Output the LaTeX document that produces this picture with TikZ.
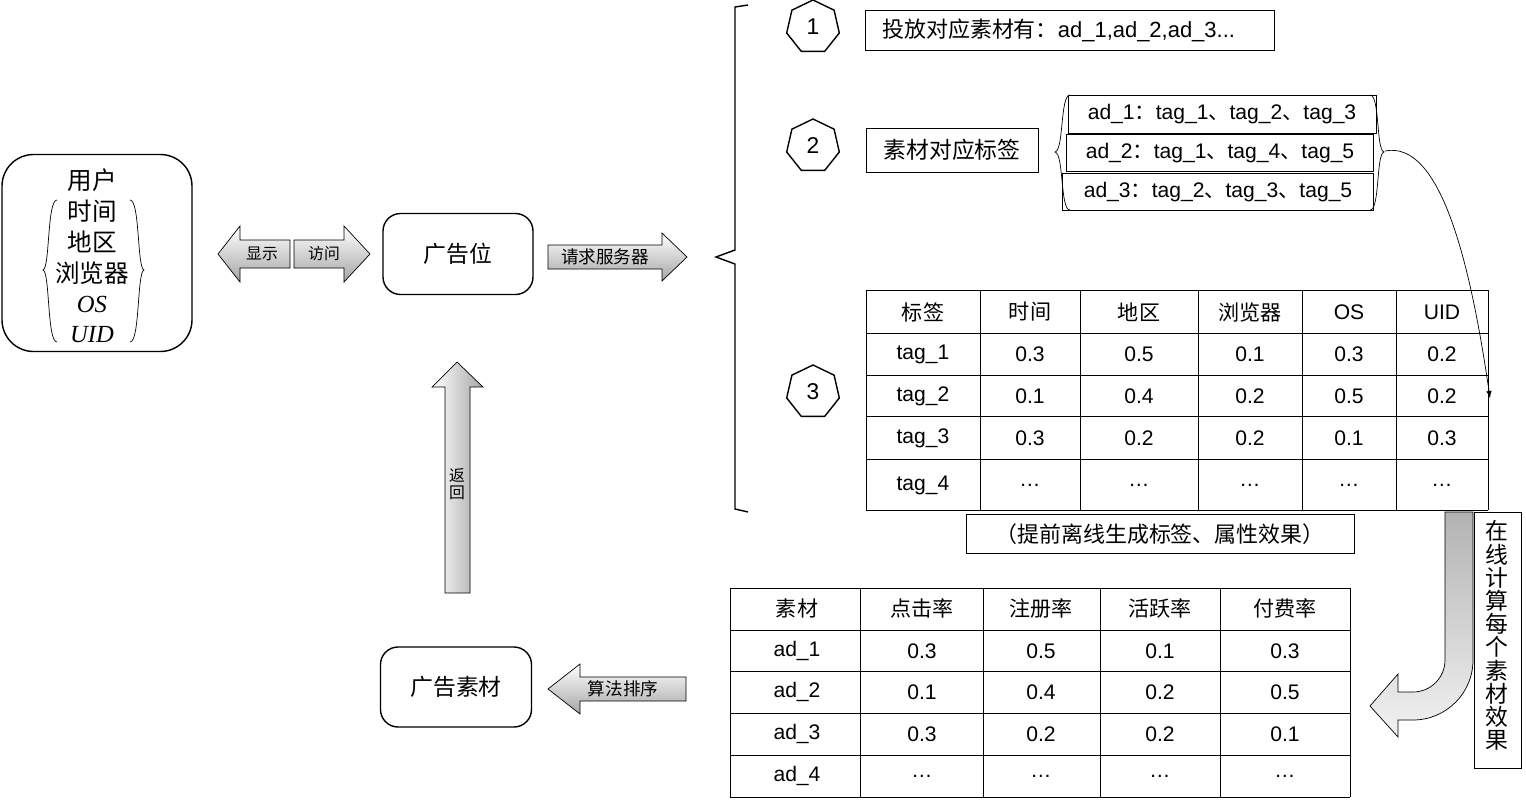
\documentclass[tikz,border=0pt]{standalone}
\usepackage{fontspec}
\setmainfont{Liberation Sans}
\newfontfamily\cjk{Noto Sans CJK SC}
\newfontfamily\serifit{Liberation Serif}
\usetikzlibrary{shapes.geometric}

\tikzset{
  rbox/.style={draw, thick, rounded corners=10pt, font=\cjk\fontsize{13}{15}\selectfont},
  tbox/.style={draw, inner sep=0pt, font=\fontsize{12}{14}\selectfont},
  hepta/.style={draw, thick, regular polygon, regular polygon sides=7, minimum size=54*0.02cm, inner sep=0pt, font=\fontsize{13}{15}\selectfont},
  garrow/.style={draw, top color=white, bottom color=black!35},
  cell/.style={font=\fontsize{12}{14}\selectfont},
  small/.style={font=\cjk\fontsize{9}{10}\selectfont},
  uitem/.style={font=\cjk\fontsize{14}{16}\selectfont}
}

\begin{document}
\begin{tikzpicture}[x=0.02cm, y=-0.02cm]
\useasboundingbox (0,0) rectangle (1526,805);

% user box
\node[rbox, minimum width=190*0.02cm, minimum height=197*0.02cm, rounded corners=18pt] (user) at (97,253) {};
\foreach [count=\i] \yy/\txt in {180/用户,211/时间,242/地区,273/浏览器,304/{\serifit\itshape OS},335/{\serifit\itshape UID}}
  \node[uitem] (u\i) at (92,\yy) {\txt};
\draw (57,200) .. controls (47,200) and (50,268) .. (43,270) .. controls (50,272) and (47,342) .. (57,342);
\draw (130,200) .. controls (140,200) and (137,268) .. (144,270) .. controls (137,272) and (140,342) .. (130,342);

% show / visit arrows
\draw[garrow] (290,240) -- (240,240) -- (240,226) -- (218,254) -- (240,282) -- (240,268) -- (290,268) -- cycle;
\node[small] (show) at (262,254) {显示};
\draw[garrow] (294,240) -- (344,240) -- (344,226) -- (370,254) -- (344,282) -- (344,268) -- (294,268) -- cycle;
\node[small] (visit) at (324,254) {访问};

% ad slot
\node[rbox, minimum width=150*0.02cm, minimum height=81*0.02cm] (slot) at (458,254) {广告位};

% request arrow
\draw[garrow] (548,245) -- (662,245) -- (662,233) -- (687,257) -- (662,281) -- (662,269) -- (548,269) -- cycle;
\node[small, font=\cjk\fontsize{10}{12}\selectfont] (request) at (605,257) {请求服务器};

% big bracket
\draw[thick] (748,5) -- (735,7) -- (735,250) -- (716,257) -- (735,264) -- (735,509) -- (748,512);

% step markers
\node[hepta] (s1) at (813,27) {1};
\node[hepta] (s2) at (813,146) {2};
\node[hepta] (s3) at (813,392) {3};

% step 1
\node[tbox, minimum width=409*0.02cm, minimum height=40*0.02cm] (ads) at (1070,30) {};
\node[anchor=west, font=\fontsize{12.5}{14}\selectfont] (adstext) at (876,30) {{\cjk 投放对应素材有：}ad\_1,ad\_2,ad\_3...};

% step 2
\node[tbox, minimum width=172*0.02cm, minimum height=44*0.02cm, font=\cjk\fontsize{13}{15}\selectfont] (adtag) at (952,150) {素材对应标签};
\node[tbox, minimum width=308*0.02cm, minimum height=38*0.02cm] (ad1) at (1222,114) {ad\_1{\cjk ：}tag\_1{\cjk 、}tag\_2{\cjk 、}tag\_3};
\node[tbox, minimum width=307*0.02cm, minimum height=37*0.02cm] (ad2) at (1220,153) {ad\_2{\cjk ：}tag\_1{\cjk 、}tag\_4{\cjk 、}tag\_5};
\node[tbox, minimum width=311*0.02cm, minimum height=37*0.02cm] (ad3) at (1218,192) {ad\_3{\cjk ：}tag\_2{\cjk 、}tag\_3{\cjk 、}tag\_5};
\draw (1070,95) .. controls (1060,95) and (1064,150) .. (1055,152) .. controls (1064,154) and (1060,210) .. (1070,210);
\draw (1370,95) .. controls (1380,95) and (1376,150) .. (1384,152) .. controls (1376,154) and (1380,210) .. (1370,210);
\coordinate (bracetip) at (1385,151);
\coordinate (curveend) at (1490,398);
\draw[-latex] (bracetip) .. controls (1440,140) and (1470,260) .. (curveend);

% tag table
\foreach \yy in {290,333,375,416,459,510} \draw (866,\yy) -- (1488,\yy);
\foreach \xx in {866,980,1080,1198,1302,1396,1488} \draw (\xx,290) -- (\xx,510);
\foreach [count=\c] \xm/\txt in {923/{\cjk 标签},1030/{\cjk 时间},1139/{\cjk 地区},1250/{\cjk 浏览器},1349/OS,1442/UID}
  \node[cell] (th\c) at (\xm,312) {\txt};
\foreach [count=\r] \ym/\a/\b/\cc/\d/\e/\f in {
  354/tag\_1/0.3/0.5/0.1/0.3/0.2,
  396/tag\_2/0.1/0.4/0.2/0.5/0.2,
  438/tag\_3/0.3/0.2/0.2/0.1/0.3,
  485/tag\_4/\dots/\dots/\dots/\dots/\dots}
{
  \node[cell] (ta\r) at (923,\ym) {\a};
  \node[cell] (tb\r) at (1030,\ym) {\b};
  \node[cell] (tc\r) at (1139,\ym) {\cc};
  \node[cell] (td\r) at (1250,\ym) {\d};
  \node[cell] (te\r) at (1349,\ym) {\e};
  \node[cell] (tf\r) at (1442,\ym) {\f};
}

% offline note
\node[tbox, minimum width=388*0.02cm, minimum height=39*0.02cm, font=\cjk\fontsize{12.5}{14}\selectfont] (offline) at (1160,534) {（提前离线生成标签、属性效果）};

% bent arrow
\shade[top color=black!30, bottom color=black!5, draw] (1473,512) -- (1473,660) arc[start angle=0, end angle=90, radius=60] -- (1398,720) -- (1398,737) -- (1370,706) -- (1398,674) -- (1398,692) -- (1413,692) arc[start angle=90, end angle=0, radius=32] -- (1445,512) -- cycle;
\node[tbox, minimum width=47*0.02cm, minimum height=256*0.02cm] (online) at (1498,640) {};
\foreach [count=\i] \ch in {在,线,计,算,每,个,素,材,效,果}
  \node[font=\cjk\fontsize{13}{15}\selectfont] (oc\i) at (1497,508+23.2*\i) {\ch};

% result table
\foreach \yy in {588,630,671,713,755,797} \draw (730,\yy) -- (1350,\yy);
\foreach \xx in {730,860,983,1100,1220,1350} \draw (\xx,588) -- (\xx,797);
\foreach [count=\c] \xm/\txt in {797/素材,922/点击率,1041/注册率,1160/活跃率,1285/付费率}
  \node[cell, font=\cjk\fontsize{12}{14}\selectfont] (rh\c) at (\xm,608) {\txt};
\foreach [count=\r] \ym/\a/\b/\cc/\d/\e in {
  651/ad\_1/0.3/0.5/0.1/0.3,
  692/ad\_2/0.1/0.4/0.2/0.5,
  734/ad\_3/0.3/0.2/0.2/0.1,
  776/ad\_4/\dots/\dots/\dots/\dots}
{
  \node[cell] (ra\r) at (797,\ym) {\a};
  \node[cell] (rb\r) at (922,\ym) {\b};
  \node[cell] (rc\r) at (1041,\ym) {\cc};
  \node[cell] (rd\r) at (1160,\ym) {\d};
  \node[cell] (re\r) at (1285,\ym) {\e};
}

% sort arrow
\draw[garrow] (686,677) -- (580,677) -- (580,664) -- (548,689) -- (580,714) -- (580,701) -- (686,701) -- cycle;
\node[small, font=\cjk\fontsize{10}{12}\selectfont] (sort) at (623,689) {算法排序};

% ad creative
\node[rbox, minimum width=151*0.02cm, minimum height=80*0.02cm] (creative) at (456,687) {广告素材};

% return arrow
\shade[left color=white, right color=black!35, draw] (445,593) -- (445,387) -- (432,387) -- (457,362) -- (483,387) -- (470,387) -- (470,593) -- cycle;
\node[small] (back1) at (457,475) {返};
\node[small] (back2) at (457,493) {回};
\end{tikzpicture}
\end{document}
